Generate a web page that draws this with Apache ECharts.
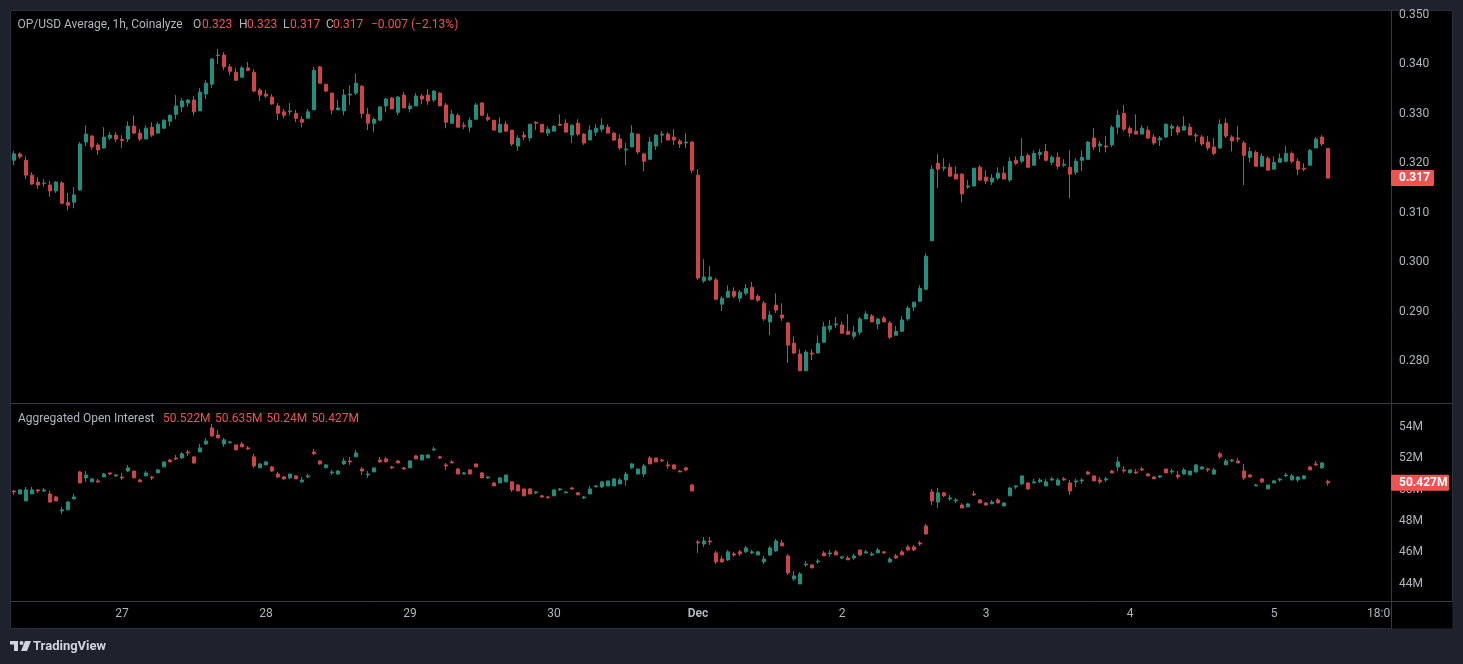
<!DOCTYPE html>
<html>
<head>
<meta charset="utf-8">
<title>OP/USD Average, 1h, Coinalyze</title>
<script src="https://cdn.jsdelivr.net/npm/echarts/dist/echarts.min.js"></script>
<style>
    html, body { margin: 0; padding: 0; background: #1e222d; }
    #chart { width: 1463px; height: 664px; }
</style>
</head>
<body>
<div id="chart"></div>
<script>
// hourly candles, Nov 26 06:00 -> Dec 5 09:00, rows are [open, close, low, high]
const priceCandles = [
    [0.3206,0.3219,0.3196,0.3225],[0.3219,0.3213,0.3209,0.3222],[0.3206,0.3176,0.3168,0.3214],[0.3176,0.3158,0.3156,0.3182],
    [0.3162,0.3156,0.3148,0.3172],[0.3159,0.3160,0.3152,0.3168],[0.3156,0.3144,0.3132,0.3164],[0.3144,0.3162,0.3140,0.3164],
    [0.3160,0.3119,0.3117,0.3164],[0.3121,0.3115,0.3105,0.3140],[0.3121,0.3136,0.3109,0.3152],[0.3146,0.3239,0.3144,0.3243],
    [0.3243,0.3259,0.3235,0.3277],[0.3255,0.3233,0.3227,0.3257],[0.3237,0.3227,0.3217,0.3241],[0.3231,0.3253,0.3229,0.3273],
    [0.3251,0.3257,0.3247,0.3263],[0.3257,0.3249,0.3243,0.3263],[0.3248,0.3246,0.3231,0.3257],[0.3249,0.3275,0.3243,0.3285],
    [0.3275,0.3261,0.3259,0.3297],[0.3261,0.3249,0.3245,0.3269],[0.3249,0.3271,0.3249,0.3277],[0.3273,0.3257,0.3253,0.3283],
    [0.3261,0.3279,0.3261,0.3283],[0.3271,0.3287,0.3269,0.3289],[0.3285,0.3297,0.3275,0.3299],[0.3299,0.3316,0.3289,0.3338],
    [0.3314,0.3326,0.3304,0.3332],[0.3322,0.3328,0.3314,0.3330],[0.3328,0.3304,0.3297,0.3336],[0.3306,0.3344,0.3306,0.3352],
    [0.3340,0.3362,0.3330,0.3368],[0.3360,0.3411,0.3352,0.3413],[0.3418,0.3419,0.3401,0.3431],[0.3419,0.3395,0.3388,0.3425],
    [0.3395,0.3386,0.3378,0.3401],[0.3384,0.3368,0.3366,0.3393],[0.3374,0.3393,0.3374,0.3397],[0.3393,0.3388,0.3386,0.3405],
    [0.3384,0.3346,0.3344,0.3390],[0.3348,0.3338,0.3326,0.3352],[0.3340,0.3336,0.3332,0.3348],[0.3334,0.3320,0.3318,0.3340],
    [0.3316,0.3301,0.3287,0.3322],[0.3304,0.3297,0.3291,0.3310],[0.3304,0.3306,0.3297,0.3322],[0.3301,0.3291,0.3283,0.3308],
    [0.3289,0.3283,0.3273,0.3295],[0.3291,0.3304,0.3291,0.3310],[0.3308,0.3388,0.3308,0.3395],[0.3395,0.3362,0.3362,0.3397],
    [0.3360,0.3346,0.3344,0.3360],[0.3342,0.3308,0.3299,0.3342],[0.3308,0.3312,0.3308,0.3328],[0.3306,0.3338,0.3297,0.3350],
    [0.3338,0.3340,0.3318,0.3358],[0.3342,0.3362,0.3338,0.3382],[0.3356,0.3301,0.3291,0.3358],[0.3299,0.3281,0.3267,0.3312],
    [0.3281,0.3289,0.3263,0.3293],[0.3287,0.3314,0.3285,0.3316],[0.3316,0.3330,0.3303,0.3332],[0.3332,0.3310,0.3310,0.3334],
    [0.3303,0.3334,0.3297,0.3336],[0.3338,0.3312,0.3312,0.3344],[0.3310,0.3316,0.3303,0.3322],[0.3316,0.3336,0.3316,0.3342],
    [0.3336,0.3330,0.3320,0.3340],[0.3338,0.3326,0.3318,0.3350],[0.3328,0.3346,0.3324,0.3348],[0.3342,0.3316,0.3316,0.3344],
    [0.3318,0.3283,0.3271,0.3322],[0.3281,0.3299,0.3281,0.3308],[0.3297,0.3273,0.3273,0.3301],[0.3277,0.3275,0.3269,0.3283],
    [0.3273,0.3287,0.3263,0.3293],[0.3289,0.3318,0.3289,0.3322],[0.3322,0.3297,0.3297,0.3324],[0.3293,0.3289,0.3285,0.3301],
    [0.3287,0.3267,0.3267,0.3287],[0.3263,0.3279,0.3261,0.3293],[0.3279,0.3265,0.3263,0.3285],[0.3267,0.3239,0.3235,0.3267],
    [0.3235,0.3251,0.3225,0.3257],[0.3257,0.3253,0.3247,0.3265],[0.3251,0.3279,0.3245,0.3279],[0.3283,0.3281,0.3267,0.3285],
    [0.3279,0.3263,0.3263,0.3279],[0.3261,0.3269,0.3255,0.3275],[0.3265,0.3275,0.3265,0.3277],[0.3279,0.3277,0.3275,0.3299],
    [0.3281,0.3263,0.3263,0.3289],[0.3257,0.3277,0.3241,0.3279],[0.3281,0.3259,0.3255,0.3289],[0.3259,0.3241,0.3237,0.3261],
    [0.3247,0.3267,0.3247,0.3277],[0.3263,0.3271,0.3255,0.3279],[0.3269,0.3277,0.3263,0.3291],[0.3273,0.3261,0.3261,0.3279],
    [0.3261,0.3247,0.3245,0.3263],[0.3249,0.3231,0.3227,0.3259],[0.3227,0.3229,0.3196,0.3241],[0.3233,0.3261,0.3233,0.3277],
    [0.3259,0.3223,0.3219,0.3259],[0.3219,0.3204,0.3184,0.3221],[0.3208,0.3243,0.3206,0.3253],[0.3235,0.3257,0.3227,0.3259],
    [0.3257,0.3259,0.3241,0.3265],[0.3259,0.3247,0.3247,0.3263],[0.3253,0.3247,0.3237,0.3269],[0.3245,0.3239,0.3231,0.3249],
    [0.3241,0.3243,0.3231,0.3261],[0.3243,0.3186,0.3180,0.3245],[0.3176,0.2968,0.2964,0.3188],[0.2962,0.2970,0.2958,0.3006],
    [0.2964,0.2970,0.2962,0.2992],[0.2964,0.2925,0.2923,0.2968],[0.2915,0.2927,0.2901,0.2931],[0.2929,0.2941,0.2927,0.2953],
    [0.2941,0.2931,0.2927,0.2949],[0.2927,0.2939,0.2919,0.2943],[0.2937,0.2947,0.2933,0.2956],[0.2949,0.2925,0.2925,0.2960],
    [0.2931,0.2923,0.2919,0.2935],[0.2917,0.2885,0.2881,0.2921],[0.2879,0.2893,0.2852,0.2901],[0.2913,0.2903,0.2897,0.2937],
    [0.2893,0.2887,0.2881,0.2917],[0.2877,0.2832,0.2796,0.2879],[0.2836,0.2816,0.2814,0.2850],[0.2814,0.2780,0.2780,0.2824],
    [0.2780,0.2818,0.2780,0.2822],[0.2816,0.2814,0.2802,0.2824],[0.2816,0.2836,0.2816,0.2852],[0.2838,0.2869,0.2836,0.2879],
    [0.2864,0.2871,0.2858,0.2883],[0.2873,0.2875,0.2867,0.2889],[0.2873,0.2856,0.2856,0.2879],[0.2860,0.2854,0.2852,0.2895],
    [0.2850,0.2858,0.2844,0.2871],[0.2858,0.2885,0.2852,0.2889],[0.2885,0.2895,0.2885,0.2901],[0.2891,0.2879,0.2879,0.2895],
    [0.2875,0.2885,0.2864,0.2887],[0.2887,0.2879,0.2879,0.2891],[0.2877,0.2848,0.2844,0.2881],[0.2852,0.2860,0.2852,0.2871],
    [0.2860,0.2883,0.2860,0.2891],[0.2885,0.2907,0.2881,0.2911],[0.2909,0.2919,0.2901,0.2919],[0.2921,0.2947,0.2919,0.2953],
    [0.2945,0.3012,0.2943,0.3018],[0.3043,0.3188,0.3043,0.3196],[0.3200,0.3188,0.3150,0.3219],[0.3190,0.3192,0.3184,0.3210],
    [0.3192,0.3174,0.3172,0.3200],[0.3178,0.3168,0.3168,0.3194],[0.3178,0.3138,0.3121,0.3180],[0.3152,0.3154,0.3148,0.3166],
    [0.3154,0.3190,0.3154,0.3190],[0.3192,0.3166,0.3164,0.3196],[0.3172,0.3164,0.3158,0.3186],[0.3162,0.3170,0.3156,0.3178],
    [0.3170,0.3180,0.3166,0.3192],[0.3180,0.3168,0.3168,0.3194],[0.3166,0.3204,0.3162,0.3212],[0.3206,0.3200,0.3196,0.3214],
    [0.3204,0.3214,0.3200,0.3251],[0.3216,0.3192,0.3190,0.3220],[0.3196,0.3220,0.3196,0.3226],[0.3218,0.3222,0.3208,0.3229],
    [0.3224,0.3206,0.3204,0.3239],[0.3202,0.3212,0.3196,0.3216],[0.3212,0.3194,0.3188,0.3222],[0.3196,0.3198,0.3192,0.3208],
    [0.3192,0.3178,0.3129,0.3226],[0.3182,0.3204,0.3176,0.3210],[0.3206,0.3212,0.3184,0.3226],[0.3208,0.3243,0.3208,0.3245],
    [0.3251,0.3233,0.3227,0.3271],[0.3235,0.3239,0.3222,0.3245],[0.3235,0.3233,0.3222,0.3255],[0.3237,0.3273,0.3233,0.3277],
    [0.3273,0.3297,0.3259,0.3308],[0.3301,0.3269,0.3265,0.3318],[0.3271,0.3261,0.3253,0.3275],[0.3265,0.3259,0.3259,0.3299],
    [0.3259,0.3271,0.3259,0.3277],[0.3267,0.3251,0.3249,0.3275],[0.3253,0.3241,0.3237,0.3259],[0.3247,0.3251,0.3235,0.3255],
    [0.3253,0.3279,0.3251,0.3281],[0.3271,0.3275,0.3255,0.3279],[0.3273,0.3263,0.3257,0.3277],[0.3267,0.3275,0.3267,0.3295],
    [0.3273,0.3257,0.3257,0.3281],[0.3257,0.3255,0.3243,0.3261],[0.3253,0.3239,0.3235,0.3257],[0.3243,0.3231,0.3226,0.3255],
    [0.3233,0.3220,0.3216,0.3251],[0.3231,0.3279,0.3229,0.3289],[0.3281,0.3255,0.3251,0.3291],[0.3253,0.3245,0.3224,0.3257],
    [0.3251,0.3249,0.3243,0.3275],[0.3241,0.3216,0.3156,0.3245],[0.3212,0.3224,0.3202,0.3233],[0.3222,0.3194,0.3194,0.3226],
    [0.3194,0.3214,0.3194,0.3220],[0.3210,0.3186,0.3186,0.3214],[0.3188,0.3202,0.3188,0.3214],[0.3202,0.3210,0.3202,0.3220],
    [0.3204,0.3220,0.3202,0.3235],[0.3220,0.3204,0.3200,0.3224],[0.3204,0.3188,0.3176,0.3210],[0.3190,0.3188,0.3184,0.3200],
    [0.3196,0.3226,0.3196,0.3229],[0.3231,0.3249,0.3231,0.3253],[0.3253,0.3239,0.3235,0.3257],[0.323,0.317,0.317,0.323]
];

// aggregated open interest in millions, same hours, [open, close, low, high]
const oiCandles = [
    [49.91,49.85,49.66,49.98],[49.72,49.98,49.72,49.98],[49.28,49.98,49.28,50.17],[49.72,49.98,49.72,50.17],
    [49.98,49.91,49.79,50.04],[49.91,49.98,49.85,50.10],[49.72,49.21,49.15,49.91],[49.53,49.28,49.28,49.60],
    [48.64,48.71,48.45,48.90],[48.71,49.21,48.71,49.28],[49.40,49.53,49.40,49.72],[51.12,50.42,50.42,51.18],
    [50.74,50.93,50.49,51.18],[50.49,50.68,50.49,50.74],[50.55,50.49,50.42,50.68],[50.80,50.99,50.80,51.06],
    [51.06,50.99,50.93,51.06],[50.87,50.93,50.80,50.99],[50.80,50.74,50.61,51.06],[51.18,51.38,51.12,51.57],
    [51.18,50.74,50.74,51.18],[50.61,50.49,50.49,50.68],[50.87,51.06,50.87,51.18],[50.80,50.74,50.61,50.87],
    [51.06,51.25,51.06,51.31],[51.44,51.76,51.44,51.76],[51.88,51.76,51.76,51.95],[52.01,51.95,51.88,52.20],
    [52.01,52.27,51.95,52.39],[52.39,52.33,52.14,52.52],[52.08,51.69,51.63,52.08],[52.39,52.65,52.39,52.90],
    [52.90,53.09,52.84,53.28],[53.92,53.41,53.35,54.17],[53.47,53.28,53.28,53.79],[52.90,53.16,52.71,53.28],
    [52.97,53.03,52.97,53.09],[52.84,52.52,52.52,52.84],[52.90,52.71,52.71,53.03],[52.65,52.58,52.52,52.77],
    [52.08,51.50,51.38,52.27],[51.38,51.63,51.38,51.69],[51.57,51.76,51.57,51.82],[51.44,51.18,51.12,51.50],
    [50.99,50.80,50.74,51.12],[50.80,50.68,50.61,50.87],[50.74,50.99,50.68,50.99],[50.87,50.68,50.68,50.93],
    [50.49,50.61,50.42,50.80],[50.80,50.87,50.74,50.99],[52.39,52.27,52.20,52.58],[51.82,51.63,51.57,51.88],
    [51.38,51.57,51.38,51.63],[51.06,51.12,50.93,51.25],[50.99,51.18,50.93,51.25],[51.63,51.82,51.57,52.01],
    [51.82,51.76,51.57,52.08],[52.08,52.33,52.08,52.52],[51.31,51.18,50.93,51.44],[50.93,50.99,50.74,51.18],
    [51.12,51.38,51.12,51.38],[51.88,51.76,51.69,52.08],[51.95,51.76,51.76,52.08],[51.44,51.38,51.31,51.50],
    [51.82,51.69,51.69,51.88],[51.38,51.31,51.25,51.44],[51.38,51.82,51.38,51.88],[52.14,51.95,51.95,52.20],
    [51.88,52.20,51.88,52.20],[52.01,52.20,52.01,52.27],[52.52,52.58,52.46,52.71],[52.08,52.01,51.95,52.14],
    [51.57,51.50,51.25,51.69],[51.76,51.69,51.69,51.88],[51.31,50.99,50.99,51.38],[50.99,51.06,50.99,51.12],
    [51.25,50.99,50.99,51.31],[51.63,51.44,51.44,51.63],[51.06,50.74,50.74,51.12],[50.74,50.80,50.68,50.87],
    [50.42,50.23,50.23,50.49],[50.42,50.74,50.42,50.80],[50.49,50.93,50.49,50.93],[50.49,49.98,49.85,50.49],
    [50.29,49.91,49.91,50.36],[50.04,49.60,49.60,50.04],[50.04,49.72,49.72,50.10],[49.79,49.85,49.72,49.91],
    [49.60,49.53,49.47,49.66],[49.53,49.47,49.47,49.60],[49.60,49.98,49.60,49.98],[49.98,50.04,49.91,50.10],
    [49.79,49.85,49.79,49.91],[50.10,50.04,49.98,50.17],[49.79,49.66,49.66,49.85],[49.47,49.53,49.40,49.60],
    [49.72,50.04,49.72,50.23],[50.17,50.23,50.17,50.29],[50.17,50.49,50.10,50.49],[50.23,50.55,50.23,50.55],
    [50.23,50.68,50.23,50.74],[50.36,50.61,50.36,50.74],[50.61,50.99,50.23,51.12],[51.38,51.63,51.31,51.69],
    [50.99,51.31,50.99,51.31],[50.99,51.50,50.80,51.63],[52.01,51.63,51.63,52.14],[52.01,51.76,51.76,52.01],
    [51.88,51.82,51.76,51.95],[51.57,51.50,51.31,51.82],[51.57,51.31,51.31,51.57],[51.18,51.12,51.12,51.25],
    [51.38,51.25,51.18,51.44],[50.29,49.91,49.91,50.36],[46.67,46.61,45.97,46.80],[46.54,46.73,46.35,46.99],
    [46.73,46.67,46.48,46.99],[45.97,45.40,45.27,46.10],[45.59,45.40,45.34,45.78],[45.53,46.04,45.46,46.16],
    [45.91,45.84,45.72,46.04],[46.04,45.91,45.78,46.16],[46.04,46.29,45.97,46.42],[45.97,46.04,45.91,46.16],
    [45.84,46.04,45.84,46.10],[45.40,45.59,45.27,45.78],[45.84,46.29,45.78,46.42],[46.10,46.73,46.04,46.86],
    [46.61,46.42,46.42,46.80],[45.78,44.70,44.57,45.91],[44.32,44.51,44.19,44.83],[44.00,44.64,44.00,44.76],
    [45.21,45.27,45.08,45.46],[45.21,45.02,45.02,45.27],[45.40,45.46,45.27,45.59],[45.97,45.78,45.78,46.10],
    [45.91,45.97,45.72,46.16],[46.04,45.84,45.84,46.16],[45.65,45.72,45.59,45.78],[45.65,45.53,45.53,45.78],
    [45.65,45.78,45.53,45.91],[46.16,45.84,45.78,46.16],[45.97,46.04,45.91,46.16],[45.84,45.91,45.78,46.04],
    [45.97,46.16,45.97,46.29],[46.04,45.97,45.91,46.10],[45.40,45.59,45.34,45.72],[45.78,45.65,45.59,45.91],
    [46.04,45.84,45.84,46.16],[46.35,46.16,46.10,46.48],[46.35,46.16,46.10,46.48],[46.61,46.54,46.42,46.73],
    [47.69,47.18,47.12,47.82],[49.85,49.28,49.02,50.04],[49.21,49.79,48.83,50.10],[49.79,49.60,49.53,49.85],
    [49.40,49.47,49.28,49.66],[49.28,49.34,49.15,49.47],[49.02,48.83,48.83,49.15],[48.90,49.09,48.90,49.15],
    [49.72,49.66,49.60,49.91],[49.34,49.15,49.15,49.40],[49.15,49.02,48.96,49.21],[49.09,49.21,49.09,49.34],
    [49.34,49.15,49.15,49.47],[48.96,49.15,48.96,49.21],[49.60,50.10,49.60,50.17],[50.17,50.23,50.04,50.29],
    [50.36,50.87,50.29,50.93],[50.42,50.04,49.98,50.49],[50.42,50.49,50.42,50.68],[50.49,50.61,50.42,50.74],
    [50.23,50.49,50.23,50.68],[50.61,50.68,50.55,50.80],[50.29,50.61,50.23,50.74],[50.68,50.61,50.55,50.80],
    [50.42,49.91,49.66,50.61],[50.49,50.55,50.17,50.68],[50.55,50.61,50.36,50.74],[51.12,50.99,50.93,51.18],
    [50.87,50.55,50.55,50.87],[50.61,50.49,50.36,50.80],[50.61,50.68,50.49,50.80],[51.18,51.06,51.06,51.25],
    [51.44,51.76,51.18,52.08],[51.25,51.18,51.06,51.50],[51.06,51.25,51.06,51.25],[51.12,51.06,50.99,51.31],
    [51.31,51.25,51.18,51.44],[50.99,50.87,50.87,51.06],[50.80,50.68,50.68,50.87],[50.80,50.87,50.74,50.93],
    [51.31,51.06,51.06,51.31],[51.12,51.18,50.99,51.31],[50.93,50.80,50.68,51.18],[50.99,51.25,50.93,51.38],
    [50.93,51.18,50.93,51.18],[51.12,51.57,51.06,51.63],[51.31,51.44,51.25,51.50],[51.31,51.25,51.12,51.38],
    [50.99,51.25,50.93,51.38],[52.27,52.08,51.95,52.39],[51.57,51.82,51.57,51.95],[51.82,51.88,51.76,51.95],
    [51.82,51.69,51.69,52.01],[51.18,50.74,50.61,51.63],[50.93,50.80,50.80,50.99],[50.23,50.29,50.23,50.36],
    [50.68,50.49,50.42,50.74],[50.04,50.29,50.04,50.29],[50.42,50.55,50.42,50.61],[50.61,50.68,50.49,50.74],
    [50.87,50.93,50.80,51.06],[50.61,50.87,50.61,50.99],[50.61,50.80,50.49,50.87],[50.68,50.87,50.68,50.93],
    [51.44,51.25,51.25,51.50],[51.63,51.57,51.50,51.82],[51.38,51.69,51.31,51.76],[50.522,50.427,50.24,50.635]
];

// time axis: slot index of each label (10 empty hours after the last candle)
const tickIndex = [18, 42, 66, 90, 114, 138, 162, 186, 210, 228];
const tickText = ['27', '28', '29', '30', 'Dec', '2', '3', '4', '5', '18:00'];
const slotCount = 230;

(function() {
    const upColor = '#1f8f7f';
    const downColor = '#cf4545';
    const textColor = '#b2b5be';
    const lineColor = '#363a45';
    const lastColor = '#ef5350';
    const font = 'Roboto';

    const hours = [];
    for (let i = 0; i < slotCount; i++) hours.push(i);

    const chart = echarts.init(document.getElementById('chart'));

    function text(x, y, str, fill, extra) {
        return {
            type: 'text', x: x, y: y, z: 60, silent: true,
            style: Object.assign({
                text: str, fill: fill, fontFamily: font, fontSize: 12, verticalAlign: 'middle'
            }, extra || {})
        };
    }

    function hline(y, x1, x2) {
        return { type: 'line', z: 40, silent: true, shape: { x1: x1, y1: y, x2: x2, y2: y }, style: { stroke: lineColor, lineWidth: 1 } };
    }

    const candleStyle = {
        color: upColor, color0: downColor,
        borderColor: upColor, borderColor0: downColor,
        borderWidth: 1
    };

    let option = {
        backgroundColor: '#1e222d',
        animation: false,
        textStyle: { fontFamily: font },
        grid: [
            // price pane: 0.350 sits 5px below the pane top, min 0.27 falls just under the separator
            { left: 11, right: 72, top: 10, height: 400.4 },
            { left: 11, right: 72, top: 395.2, height: 220.2 }
        ],
        xAxis: [
            { type: 'category', gridIndex: 0, data: hours, show: false },
            {
                type: 'category', gridIndex: 1, data: hours, offset: -14.4,
                axisLine: { show: false },
                axisTick: { show: false },
                splitLine: { show: false },
                axisLabel: {
                    color: textColor, fontSize: 12, margin: 7,
                    interval: function(index) { return tickIndex.includes(index); },
                    formatter: function(value, index) {
                        const t = tickText[tickIndex.indexOf(Number(value))];
                        return t === 'Dec' ? '{b|Dec}' : t;
                    },
                    rich: { b: { color: textColor, fontSize: 12, fontWeight: 'bold' } }
                }
            }
        ],
        yAxis: [
            {
                type: 'value', gridIndex: 0, position: 'right',
                min: 0.27, max: 0.35101, interval: 0.01,
                axisLine: { show: false }, axisTick: { show: false }, splitLine: { show: false },
                axisLabel: {
                    color: textColor, fontSize: 12, margin: 8,
                    showMinLabel: false, showMaxLabel: false,
                    formatter: function(v) { return v.toFixed(3); }
                }
            },
            {
                type: 'value', gridIndex: 1, position: 'right',
                min: 42, max: 56, interval: 2,
                axisLine: { show: false }, axisTick: { show: false }, splitLine: { show: false },
                axisLabel: {
                    color: textColor, fontSize: 12, margin: 8,
                    showMinLabel: false, showMaxLabel: false,
                    formatter: function(v) { return v + 'M'; }
                }
            }
        ],
        series: [
            {
                name: 'OP/USD', type: 'candlestick', xAxisIndex: 0, yAxisIndex: 0,
                data: priceCandles, barWidth: 4, itemStyle: candleStyle
            },
            {
                name: 'Aggregated Open Interest', type: 'candlestick', xAxisIndex: 1, yAxisIndex: 1,
                data: oiCandles, barWidth: 4, itemStyle: candleStyle
            }
        ]
    };

    chart.setOption(option);

    // legend values from the last candles
    const lastP = priceCandles[priceCandles.length - 1];
    const prevClose = priceCandles[priceCandles.length - 2][1];
    const change = lastP[1] - prevClose;
    const pct = change / prevClose * 100;
    const minus = function(v, d) { return (v < 0 ? '\u2212' : '+') + Math.abs(v).toFixed(d); };
    const lastOi = oiCandles[oiCandles.length - 1];
    const mFmt = function(v) { return parseFloat(v.toFixed(3)) + 'M'; };

    const priceY = chart.convertToPixel({ yAxisIndex: 0 }, lastP[1]);
    const oiY = chart.convertToPixel({ yAxisIndex: 1 }, lastOi[1]);

    const graphic = [
        // black chart frame
        { type: 'rect', z: -10, silent: true, shape: { x: 10.5, y: 10.5, width: 1442, height: 618 },
          style: { fill: '#000000', stroke: '#2a2e39', lineWidth: 1 } },
        hline(403.5, 10, 1453),
        hline(601.5, 10, 1453),
        { type: 'line', z: 40, silent: true, shape: { x1: 1391.5, y1: 10, x2: 1391.5, y2: 629 }, style: { stroke: lineColor, lineWidth: 1 } },
        // empty corner below the scales
        { type: 'rect', z: 45, silent: true, shape: { x: 1392, y: 602, width: 60.5, height: 26.5 }, style: { fill: '#000000' } },

        text(17.5, 25, 'OP/USD Average, 1h, Coinalyze', textColor),
        text(193, 25, 'O', textColor), text(202, 25, lastP[0].toFixed(3), lastColor),
        text(239, 25, 'H', textColor), text(247, 25, lastP[3].toFixed(3), lastColor),
        text(283, 25, 'L', textColor), text(290, 25, lastP[2].toFixed(3), lastColor),
        text(326, 25, 'C', textColor), text(333, 25, lastP[1].toFixed(3), lastColor),
        text(371, 25, minus(change, 3) + ' (' + minus(pct, 2) + '%)', lastColor),

        text(18, 419, 'Aggregated Open Interest', textColor),
        text(163, 419, mFmt(lastOi[0]), lastColor),
        text(215, 419, mFmt(lastOi[3]), lastColor),
        text(266.5, 419, mFmt(lastOi[2]), lastColor),
        text(311.5, 419, mFmt(lastOi[1]), lastColor),

        // last value tags on the scales
        { type: 'rect', z: 58, silent: true, shape: { x: 1391, y: priceY - 8, width: 43, height: 16, r: 1 }, style: { fill: lastColor } },
        text(1399, priceY, lastP[1].toFixed(3), '#ffffff', { fontWeight: 'bold' }),
        { type: 'rect', z: 58, silent: true, shape: { x: 1391, y: oiY - 8, width: 58, height: 16, r: 1 }, style: { fill: lastColor } },
        text(1399, oiY, lastOi[1].toFixed(3) + 'M', '#ffffff', { fontWeight: 'bold' }),

        // TradingView mark
        { type: 'rect', z: 60, silent: true, shape: { x: 10, y: 641, width: 8, height: 3.5 }, style: { fill: '#d1d4dc' } },
        { type: 'rect', z: 60, silent: true, shape: { x: 14, y: 641, width: 4, height: 10 }, style: { fill: '#d1d4dc' } },
        { type: 'circle', z: 60, silent: true, shape: { cx: 21.5, cy: 643, r: 2 }, style: { fill: '#d1d4dc' } },
        { type: 'polygon', z: 60, silent: true, shape: { points: [[25, 641], [31, 641], [27, 651], [21, 651]] }, style: { fill: '#d1d4dc' } },
        text(33, 647, 'TradingView', '#d1d4dc', { fontSize: 13, fontWeight: 'bold' })
    ];

    chart.setOption({ graphic: graphic });
})();
</script>
</body>
</html>
